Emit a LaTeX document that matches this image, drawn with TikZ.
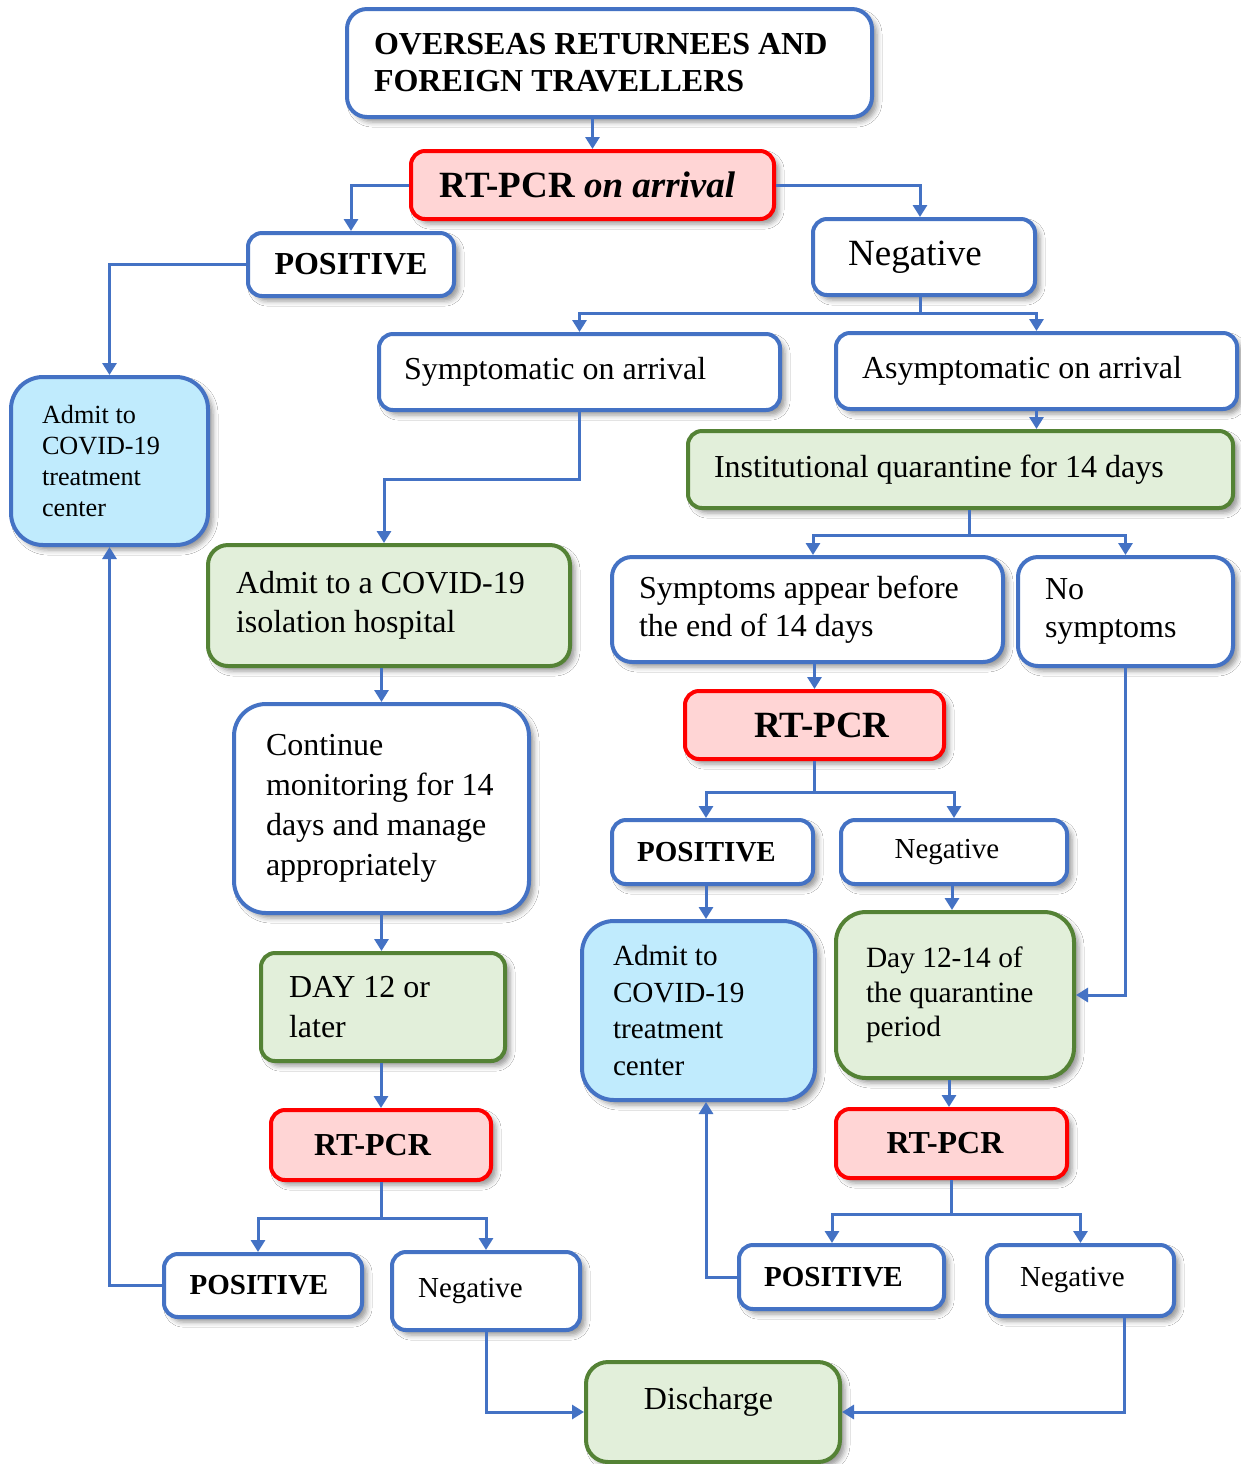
\documentclass[tikz,border=0pt]{standalone}
\usepackage{fontspec}
\setmainfont{Liberation Serif}
\usetikzlibrary{arrows.meta,shadows.blur,calc}

\definecolor{lineblue}{HTML}{4472C4}
\definecolor{boxred}{HTML}{FF0000}
\definecolor{fillred}{HTML}{FFD5D5}
\definecolor{boxgreen}{HTML}{548235}
\definecolor{fillgreen}{HTML}{E2EFDA}
\definecolor{fillcyan}{HTML}{C0EBFD}

\tikzset{
  shadowed/.style={blur shadow={shadow xshift=2.5pt, shadow yshift=-2.5pt,
      shadow blur radius=2.5pt, shadow opacity=40}},
  box/.style={rectangle, line width=2pt, rounded corners=7pt, shadowed,
      inner sep=2pt, text=black},
  wbox/.style={box, draw=lineblue, fill=white},
  rbox/.style={box, draw=boxred, fill=fillred},
  gbox/.style={box, draw=boxgreen, fill=fillgreen},
  cbox/.style={box, draw=lineblue, fill=fillcyan},
  sz/.style 2 args={minimum width=#1, minimum height=#2},
  lt/.style={align=flush left, text width=#1, inner xsep=0pt},
  fs/.style 2 args={font=\fontsize{#1}{#2}\selectfont},
  arr/.style={draw=lineblue, line width=1.5pt,
      -{Triangle[width=7pt,length=6pt]}},
}

\begin{document}
\begin{tikzpicture}[x=0.5pt, y=-0.5pt]
\useasboundingbox (0,0) rectangle (1241,1464);
\fill[white] (0,0) rectangle (1241,1464);

% ---- boxes ----
\node[wbox, rounded corners=10pt, sz={262.5pt}{54pt}, lt=235.5pt, fs={16}{18.5}] (top) at (609.5,63)
  {\bfseries OVERSEAS RETURNEES AND\\FOREIGN TRAVELLERS};
\node[rbox, sz={181.5pt}{34pt}, fs={18.5}{22}] (rtarr) at (592.5,185)
  {\bfseries RT-PCR \textit{on arrival}\hspace*{5pt}};
\node[wbox, sz={103pt}{31.5pt}, fs={16}{20}] (posTop) at (351,264.5) {\bfseries POSITIVE};
\node[wbox, sz={111pt}{38pt}, fs={18.5}{22}] (negTop) at (924,257) {Negative\hspace*{9pt}};
\node[wbox, sz={200.5pt}{38pt}, lt=175.5pt, fs={16}{20}] (sympt) at (579.5,372) {Symptomatic on arrival};
\node[wbox, sz={200.5pt}{38pt}, lt=174.5pt, fs={16}{20}] (asympt) at (1036.5,371) {Asymptomatic on arrival};
\node[cbox, rounded corners=16pt, sz={98.5pt}{84pt}, lt=67.5pt, fs={13.1}{15.5}] (admitL) at (109.5,461)
  {Admit to\\COVID-19\\treatment\\center};
\node[gbox, sz={272.5pt}{38.5pt}, lt=246.5pt, fs={16}{20}] (inst) at (960.5,469.5)
  {Institutional quarantine for 14 days};
\node[gbox, rounded corners=10pt, sz={181pt}{60.5pt}, lt=153pt, fs={16}{19.5}] (isol) at (389,605.5)
  {Admit to a COVID-19\\isolation hospital};
\node[wbox, rounded corners=10pt, sz={195.5pt}{52.5pt}, lt=168.5pt, fs={16}{18.75}] (sympBefore) at (807.5,609.5)
  {Symptoms appear before\\the end of 14 days};
\node[wbox, rounded corners=10pt, sz={107.5pt}{54.5pt}, lt=80.5pt, fs={16}{18.75}] (noSym) at (1125.5,611.5)
  {No\\symptoms};
\node[rbox, sz={129.5pt}{34pt}, fs={18.5}{22}] (rtMid) at (814.5,725) {\hspace*{7.5pt}\bfseries RT-PCR};
\node[wbox, rounded corners=16pt, sz={147.5pt}{104.5pt}, lt=115.5pt, fs={16}{20}] (cont) at (381.5,808.5)
  {Continue\\monitoring~for~14\\days and manage\\appropriately};
\node[wbox, sz={100.5pt}{32pt}, fs={14.5}{18}] (posMid) at (712.5,852) {\bfseries POSITIVE\hspace*{6pt}};
\node[wbox, sz={113pt}{32pt}, fs={14.5}{18}] (negMid) at (954,852) {Negative\hspace*{7pt}};
\node[cbox, rounded corners=16pt, sz={116.5pt}{89.5pt}, lt=85.5pt, fs={14.6}{18.3}] (admitM) at (698.5,1010.5)
  {Admit to\\COVID-19\\treatment\\center};
\node[gbox, rounded corners=15pt, sz={119pt}{83pt}, lt=89pt, fs={14.7}{17.3}] (dayQ) at (955,995)
  {Day 12-14 of\\the quarantine\\period};
\node[gbox, sz={122pt}{54pt}, lt=94pt, fs={16}{20}] (dayL) at (383,1007) {DAY 12 or\\later};
\node[rbox, sz={110pt}{35pt}, fs={16}{20}] (rtL) at (381,1145) {\bfseries RT-PCR\hspace*{8.5pt}};
\node[rbox, sz={115.5pt}{34.5pt}, fs={16}{20}] (rtR) at (951.5,1143.5) {\bfseries RT-PCR\hspace*{6.5pt}};
\node[wbox, sz={99pt}{31.5pt}, fs={14.5}{18}] (posL) at (263,1285.5) {\bfseries POSITIVE\hspace*{4pt}};
\node[wbox, sz={94pt}{39pt}, fs={14.5}{18}] (negL) at (486,1291) {Negative\hspace*{15.5pt}};
\node[wbox, sz={102.5pt}{32pt}, fs={14.5}{18}] (posR) at (841.5,1277) {\bfseries POSITIVE\hspace*{8pt}};
\node[wbox, sz={93.5pt}{35.5pt}, fs={14.5}{18}] (negR) at (1080.5,1280.5) {Negative\hspace*{8pt}};
\node[gbox, rounded corners=11pt, sz={127pt}{50pt}, fs={16}{20}, text depth=13.5pt] (disch) at (713,1412)
  {Discharge\hspace*{4.5pt}};

% ---- connectors ----
\draw[arr] (rtarr.north |- top.south) -- (rtarr.north);
\draw[arr] (rtarr.west) -| (posTop.north);
\draw[arr] (rtarr.east) -| ([xshift=-2pt]negTop.north);
\draw[arr] (posTop.west) -| (admitL.north);
\draw[arr] ([xshift=-2pt]negTop.south) -- ++(0,16) -| (sympt.north);
\draw[arr] ([xshift=-2pt]negTop.south) -- ++(0,16) -| (asympt.north);
\draw[arr] (sympt.south) -- ++(0,67) -| ([xshift=-2.5pt]isol.north);
\draw[arr] (asympt.south) -- (asympt.south |- inst.north);
\draw[arr] ([xshift=4.25pt]inst.south) -- ++(0,25) -| ([xshift=2.75pt]sympBefore.north);
\draw[arr] ([xshift=4.25pt]inst.south) -- ++(0,25) -| (noSym.north);
\draw[arr] (rtMid.north |- sympBefore.south) -- (rtMid.north);
\draw[arr] (rtMid.south) -- ++(0,31) -| ([xshift=-3.25pt]posMid.north);
\draw[arr] (rtMid.south) -- ++(0,31) -| (negMid.north);
\draw[arr] ([xshift=-3.25pt]posMid.south) -- ([xshift=-3.25pt]posMid.south |- admitM.north);
\draw[arr] ([xshift=-1pt]negMid.south) -- ([xshift=-1pt]negMid.south |- dayQ.north);
\draw[arr] (noSym.south) |- (dayQ.east);
\draw[arr] (cont.north |- isol.south) -- (cont.north);
\draw[arr] (cont.south) -- (cont.south |- dayL.north);
\draw[arr] (rtL.north |- dayL.south) -- (rtL.north);
\draw[arr] (rtL.south) -- ++(0,36) -| ([xshift=-2.5pt]posL.north);
\draw[arr] (rtL.south) -- ++(0,36) -| (negL.north);
\draw[arr] (posL.west) -| (admitL.south);
\draw[arr] (negL.south) |- (disch.west);
\draw[arr] ([xshift=-3pt]dayQ.south) -- ([xshift=-3pt]dayQ.south |- rtR.north);
\draw[arr] (rtR.south) -- ++(0,34) -| ([xshift=-4.75pt]posR.north);
\draw[arr] (rtR.south) -- ++(0,34) -| (negR.north);
\draw[arr] (posR.west) -| ([xshift=3.75pt]admitM.south);
\draw[arr] ([xshift=21.75pt]negR.south) |- (disch.east);
\end{tikzpicture}
\end{document}
